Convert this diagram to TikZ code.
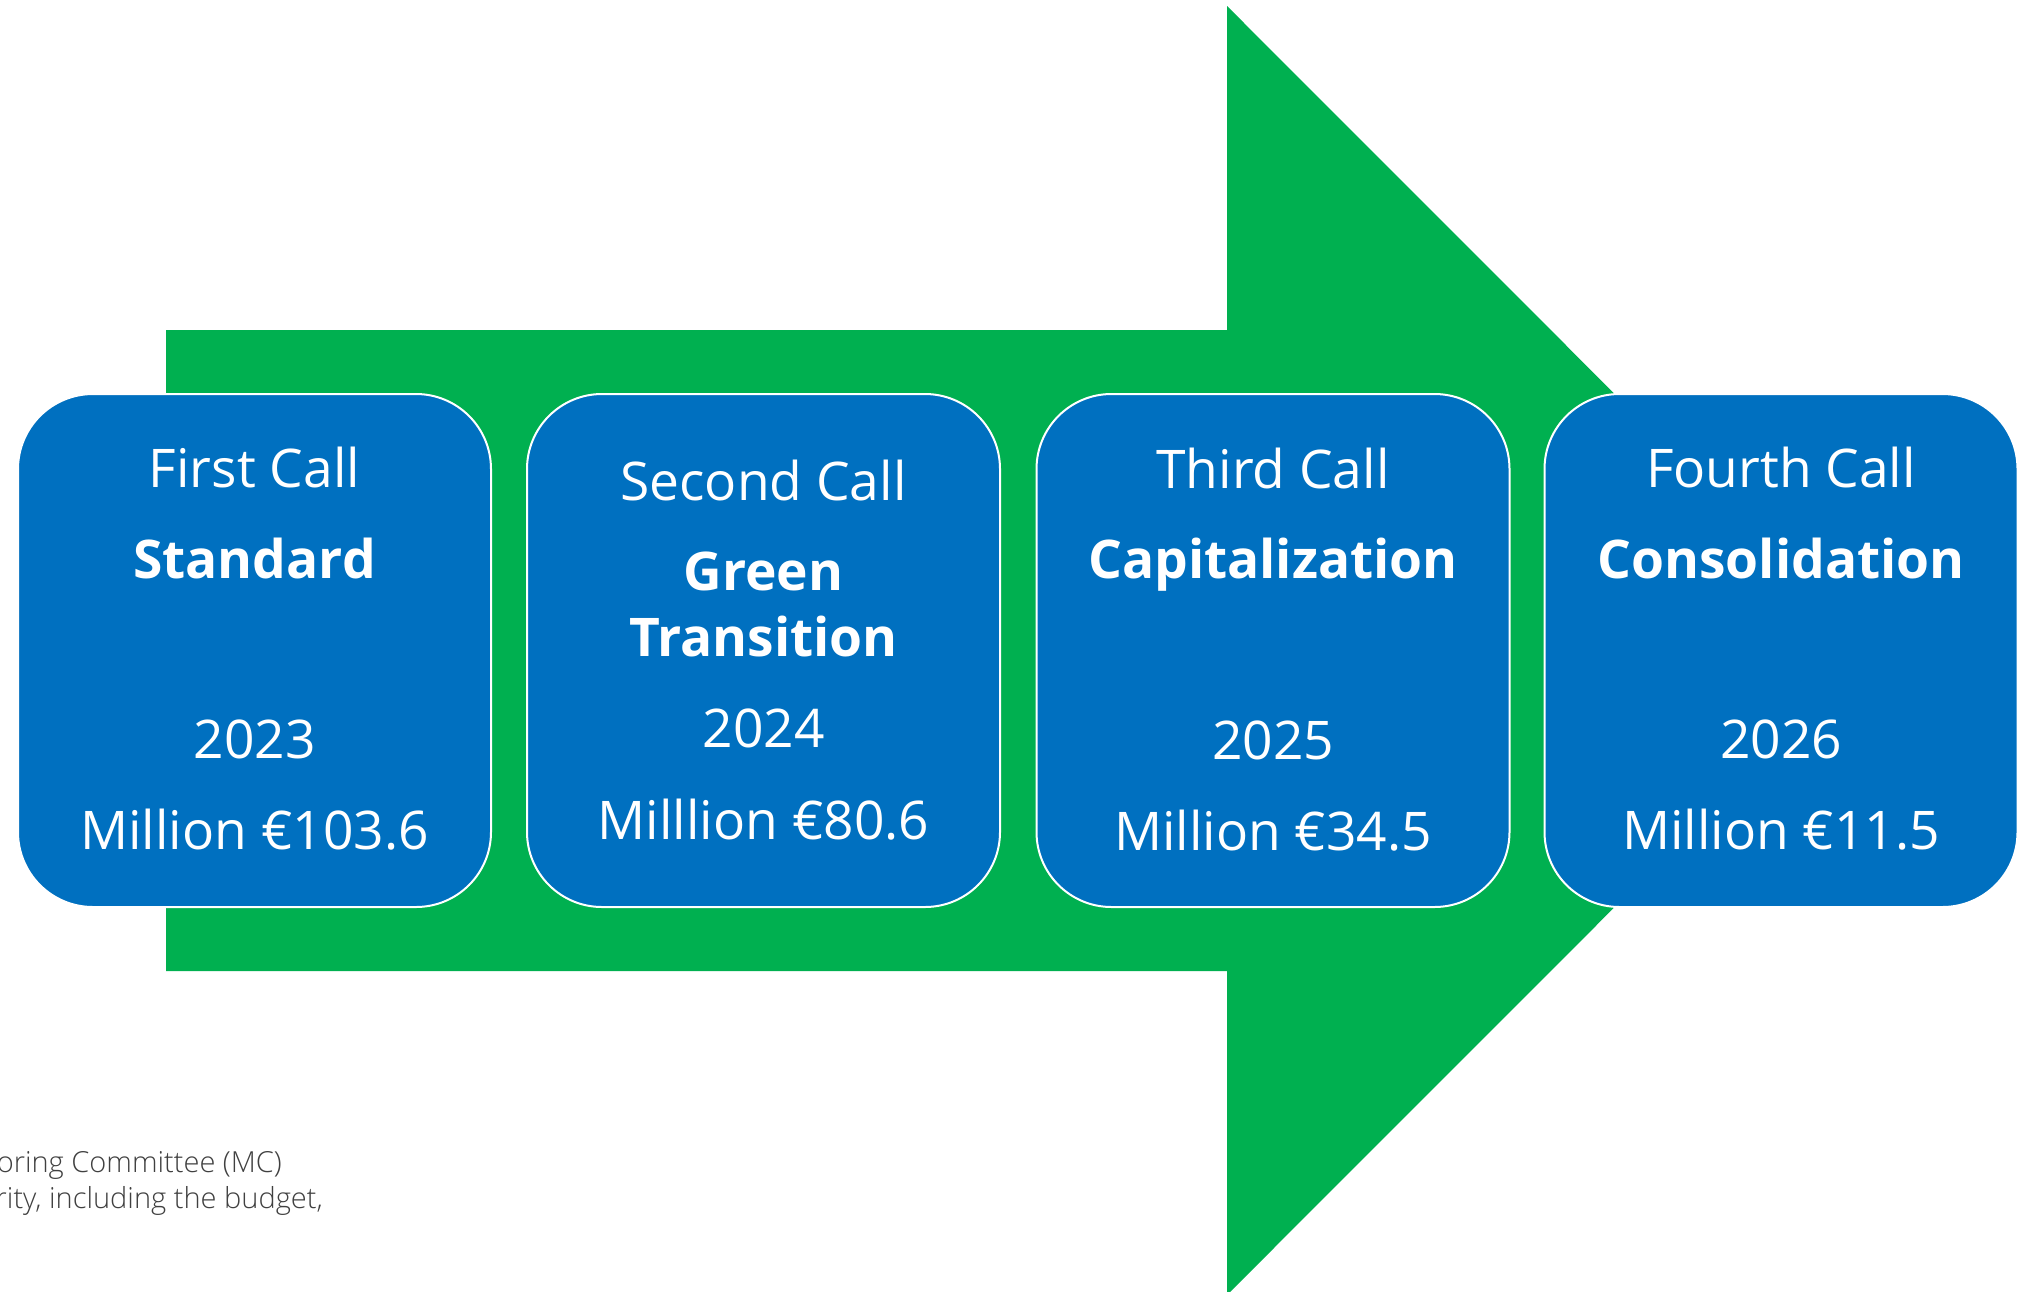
\documentclass[tikz,border=0pt]{standalone}
\usepackage{fontspec}
\setmainfont{Open Sans}
\newfontfamily\lightfont{Open Sans Light}
\definecolor{arrowgreen}{HTML}{00B050}
\definecolor{boxblue}{HTML}{0070C0}
\definecolor{notegray}{HTML}{404040}
\begin{document}
\begin{tikzpicture}[x=1pt,y=-1pt,
 callbox/.style={draw=white, line width=2pt, fill=boxblue, rounded corners=75pt, minimum width=473pt, minimum height=513pt, inner sep=0pt},
 plain/.style={text=white, anchor=base, inner sep=0pt, font=\fontsize{53.3}{60}\selectfont},
 head/.style={text=white, anchor=base, inner sep=0pt, font=\fontsize{53.3}{60}\selectfont\bfseries},
 note/.style={text=notegray, anchor=base east, inner sep=0pt, font=\lightfont\fontsize{29}{36}\selectfont}]
\useasboundingbox (0,0) rectangle (2034,1291);
\fill[arrowgreen] (166,330) -- (1227,330) -- (1227,6) -- (1871,650.5) -- (1227,1295) -- (1227,971) -- (166,971) -- cycle;
\node[callbox] (b1) at (254.5,650.5) {};
\node[callbox] (b2) at (763.5,650.5) {};
\node[callbox] (b3) at (1273,650.5) {};
\node[callbox] (b4) at (1781,650.5) {};
\node[plain] (t1a) at (254.5,487) {First Call};
\node[head]  (t1b) at (254.5,578) {Standard};
\node[plain] (t1c) at (254.5,758) {2023};
\node[plain] (t1d) at (254.5,849) {Million €103.6};
\node[plain] (t2a) at (763.5,500) {Second Call};
\node[head]  (t2b) at (763.5,590) {Green};
\node[head]  (t2c) at (763.5,656) {Transition};
\node[plain] (t2d) at (763.5,747) {2024};
\node[plain] (t2e) at (763.5,839) {Milllion €80.6};
\node[plain] (t3a) at (1273,488) {Third Call};
\node[head]  (t3b) at (1273,578) {Capitalization};
\node[plain] (t3c) at (1273,759) {2025};
\node[plain] (t3d) at (1273,850) {Million €34.5};
\node[plain] (t4a) at (1781,487) {Fourth Call};
\node[head]  (t4b) at (1781,578) {Consolidation};
\node[plain] (t4c) at (1781,758) {2026};
\node[plain] (t4d) at (1781,849) {Million €11.5};
\node[note] (n1) at (282,1172) {oring Committee (MC)};
\node[note] (n2) at (323,1208) {rity, including the budget,};
\end{tikzpicture}
\end{document}
